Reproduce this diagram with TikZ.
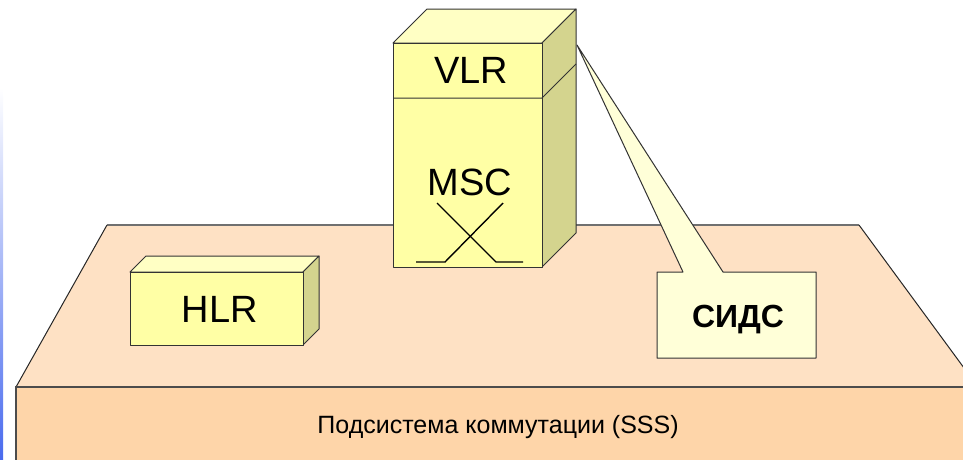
\documentclass[tikz,border=0pt]{standalone}
\usepackage{fontspec}
\setmainfont{Liberation Sans}

\definecolor{boxfront}{HTML}{FFFFA5}
\definecolor{boxtop}{HTML}{FFFFC4}
\definecolor{boxside}{HTML}{D4D48E}
\definecolor{basetop}{HTML}{FEE1C4}
\definecolor{basefront}{HTML}{FED5A9}
\definecolor{notefill}{HTML}{FFFFD8}
\definecolor{stripblue}{HTML}{4A6BEE}
\definecolor{edgegray}{HTML}{707070}

\begin{document}
\begin{tikzpicture}[x=1pt, y=-1pt,
    face/.style={draw=black!80, line width=1pt, line join=round},
    lbl/.style={anchor=base, inner sep=0pt, font=\fontsize{38}{40}\selectfont},
    switch/.style={line width=1.4pt}
  ]
  \useasboundingbox (0,0) rectangle (963,459);
  \clip (0,0) rectangle (963,459);
  \shade[top color=white, bottom color=stripblue] (0,88) rectangle (3,459);

  % base platform
  \fill[basetop] (16,387) -- (107,225) -- (859,225) -- (978,387) -- cycle;
  \fill[basefront] (16,387) rectangle (990,470);
  \draw[edgegray, line width=1.2pt] (107,225) -- (859,225);
  \draw[black!85, line width=1pt] (16,387) -- (107,225) (859,225) -- (978,387);
  \draw[black!70, line width=1.4pt] (16,470) -- (16,387) -- (990,387);
  \node[anchor=base, inner sep=0pt, font=\fontsize{25}{27}\selectfont] (sss)
    at (498,433) {Подсистема коммутации (SSS)};

  % HLR
  \filldraw[face, fill=boxtop] (130,272) -- (146,256) -- (319,256) -- (303,272) -- cycle;
  \filldraw[face, fill=boxside] (303,272) -- (319,256) -- (319,329) -- (303,345) -- cycle;
  \filldraw[face, fill=boxfront] (130,272) rectangle (303,345);
  \node[lbl] (hlr) at (220,322) {HLR};

  % MSC / VLR
  \filldraw[face, fill=boxtop] (393,43) -- (427,9) -- (576,9) -- (542,43) -- cycle;
  \filldraw[face, fill=boxside] (542,43) -- (576,9) -- (576,233) -- (542,267) -- cycle;
  \filldraw[face, fill=boxfront] (393,43) rectangle (542,267);
  \draw[face] (393,98) -- (542,98) -- (576,64);
  \node[lbl] (vlr) at (471,83) {VLR};
  \node[lbl] (msc) at (470,195) {MSC};
  \draw[switch] (416,262) -- (445,262) -- (503,203);
  \draw[switch] (437,203) -- (496,262) -- (523,262);

  % callout
  \filldraw[face, fill=notefill] (657,272) -- (683,272) -- (577,45) -- (723,272)
    -- (816,272) -- (816,358) -- (657,358) -- cycle;
  \node[anchor=base, inner sep=0pt, font=\fontsize{32}{34}\selectfont\bfseries] (sids)
    at (738,327) {СИДС};
\end{tikzpicture}
\end{document}
